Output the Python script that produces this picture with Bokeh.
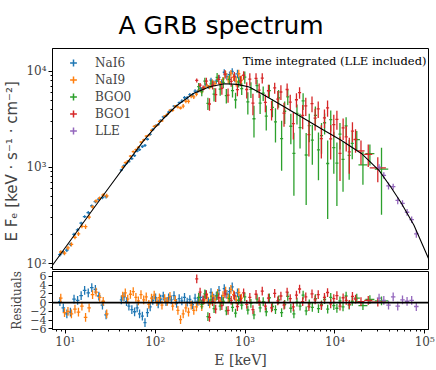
import numpy as np
from bokeh.plotting import figure
from bokeh.models import (Range1d, ColumnDataSource, Legend, LegendItem, Label, Span,
                          CustomJSTickFormatter, SingleIntervalTicker, LogTicker)
from bokeh.layouts import column
from bokeh.embed import file_html
from bokeh.resources import INLINE

# ---------------- data ----------------
# best-fit model curve, E [keV] and E F_E
model_E = [7.2, 9.0, 13.4, 20.6, 31.8, 47.8, 73.4, 95, 122, 170, 262, 403, 591, 823, 1114,
           1552, 2580, 7130, 11860, 19700, 31100, 42200, 54500, 75800, 110000]
model_F = [96, 128, 214, 374, 649, 1090, 1870, 2483, 3200, 4345, 5848, 6950, 7447, 7345, 6902,
           5821, 4426, 2518, 1910, 1400, 929, 619, 430, 250, 113]

# NaI6
n6_E = [8.7, 9.5, 10.4, 11.4, 12.5, 13.7, 15.0, 16.4, 18.0, 19.7, 21.6, 23.6, 25.9, 28.4,
        42, 45, 48, 51, 55, 59, 63, 67, 72, 77, 82, 88, 94, 101, 108, 115, 123, 132, 141, 151,
        162, 173, 185, 198, 212, 227, 243, 260, 278, 298, 319, 341, 365, 391, 418, 448, 479,
        513, 549, 587, 628, 672, 720, 770, 824, 880]
n6_F = [123.5, 130, 138, 158, 201, 224, 263, 308, 339, 398, 441, 469, 486, 497,
        942, 1048, 1103, 1155, 1238, 1332, 1486, 1537, 1654, 1696, 1969, 2212, 2487, 2724, 2800,
        3092, 3373, 3467, 3777, 3969, 4359, 4373, 4730, 4918, 5331, 5321, 5734, 5690, 6253, 6235,
        6666, 6647, 7224, 6933, 8125, 7575, 7923, 8684, 7756, 9816, 8842, 9261, 10046, 8707,
        9446, 8092]
n6_err = [4.9, 5.5, 6.2, 6.9, 7.8, 8.8, 9.9, 11, 12.5, 14, 15.8, 17.7, 20, 22.4,
          28, 30, 33, 35, 39, 43, 46, 50, 55, 59, 63, 68, 74, 79, 85, 91, 97, 103, 110, 117,
          125, 132, 138, 217, 228, 238, 250, 262, 269, 277, 285, 293, 301, 309, 490, 496, 502,
          508, 514, 744, 743, 741, 739, 958, 955, 942]
n6_R = [0.2, -1.2, -2.6, -2.2, 0.8, 0.5, 1.6, 2.8, 2.2, 3.4, 3.0, 1.5, -0.6, -2.8,
        0.6, 1.3, 0.2, -0.8, -1.6, -2.1, -1.2, -2.6, -3.1, -4.6, -2.3, -1.0, 0.5, 1.1, -0.3,
        0.8, 1.5, 0.2, 1.1, 0.6, 1.6, -0.2, 0.9, 0.4, 1.2, 0.1, 0.7, -0.5, 1.0, 0.3, 1.2, 0.5,
        1.8, 0.2, 2.3, 1.0, 1.5, 2.8, 0.8, 3.2, 1.9, 2.5, 3.6, 1.4, 2.2, 0.9]

# NaI9
n9_E = [8.9, 9.8, 10.7, 11.7, 12.8, 14.0, 15.3, 16.8, 18.4, 20.1, 22.0, 24.1, 26.4, 28.9,
        43.5, 46.5, 49.5, 53, 57, 61, 65, 69.5, 74.5, 79.5, 85, 91, 97.5, 104.5, 111.5, 119,
        127.5, 136.5, 146, 156.5, 167.5, 179, 191.5, 205, 219.5, 235, 251.5, 269, 288, 308,
        330, 353, 378, 404, 433, 463, 496, 531, 568, 608, 650, 696, 745, 797, 852, 912]
n9_F = [131.7, 128.2, 145.6, 158.1, 187.4, 203.6, 243.9, 242.2, 303.7, 389.2, 447.6, 478.5,
        516.9, 506,
        1011, 1123, 1166, 1312, 1462, 1534, 1623, 1839, 1934, 2121, 2170, 2437, 2678, 2751,
        3017, 3065, 3424, 3583, 3939, 3933, 4355, 4262, 4167, 4366, 4901, 4892, 5535, 5431,
        5801, 6353, 6156, 6770, 7142, 6856, 7781, 7476, 8277, 7457, 8222, 9369, 8232, 9615,
        8703, 7929, 9471, 8126]
n9_err = [5.7, 6.4, 7.2, 8.1, 9.0, 10.2, 11.4, 12.9, 14.4, 16.2, 18.2, 20.4, 23, 25.8,
          29, 32, 34, 37, 41, 44, 48, 52, 57, 61, 66, 71, 76, 82, 88, 94, 100, 107, 113, 121,
          129, 135, 142, 223, 233, 244, 256, 266, 273, 281, 289, 297, 305, 313, 493, 499, 505,
          511, 518, 744, 742, 740, 738, 956, 948, 935]
n9_R = [1.0, -2.3, -2.0, -2.6, -1.5, -2.2, -0.8, -3.4, -1.2, 1.8, 2.4, 1.2, 0.3, -2.6,
        1.5, 2.2, 0.8, 1.9, 2.5, 1.2, 0.4, 1.8, 0.6, 1.3, -0.4, 1.0, 1.7, 0.2, 1.1, -0.6, 0.9,
        0.3, 1.4, -0.8, 0.5, -1.8, -3.9, -2.6, -1.2, -2.2, -0.6, -1.8, -1.0, 0.4, -0.9, 0.6,
        1.2, -0.3, 1.5, 0.7, 2.1, 0.3, 1.6, 2.6, 1.1, 3.0, 1.8, 0.6, 2.3, 1.0]

# BGO0
b0_E = [305, 330, 357, 386, 418, 452, 489, 529, 572, 619, 670, 725, 784, 848, 918, 993, 1074,
        1162, 1257, 1360, 1471, 1592, 1722, 1863, 2016, 2181, 2359, 2552, 2761, 2987, 3232,
        3496, 3782, 4092, 4427, 4789, 5181, 5605, 6064, 6560, 7097, 7678, 8306, 8986, 9721,
        10520, 11380, 12310, 13320, 14410, 15590, 17500, 20500, 24500, 33000]
b0_F = [6964, 6159, 7946, 4646, 7418, 5805, 8694, 6540, 7692, 5597, 8275, 6328, 5064, 7773,
        6620, 8718, 4823, 6512, 3219, 7128, 4691, 5949, 3425, 6323, 4238, 2986, 5317, 1996,
        3855, 5452, 2688, 1406, 3666, 2605, 4953, 1350, 2735, 1928, 3498, 1529, 2145, 2926,
        1101, 3152, 1607, 1111, 2226, 1213, 2711, 1338, 1785, 1955, 1066, 1393, 962]
b0_err = [622, 642, 662, 683, 700, 922, 936, 949, 962, 966, 963, 960, 957, 949, 933, 1272,
          1251, 1216, 1168, 1122, 1077, 1034, 991, 950, 910, 1164, 1116, 1069, 1023, 979, 938,
          898, 859, 1028, 984, 942, 902, 863, 826, 791, 757, 725, 811, 777, 745, 713, 684, 653,
          622, 593, 565, 451, 405, 345, 640]
b0_R = [1.2, -0.4, 2.0, -3.2, 0.6, -1.4, 1.6, -0.8, 0.3, -1.9, 0.9, -1.1, -2.4, 0.5, -0.6,
        1.3, -1.7, -0.2, -2.8, 0.8, -1.2, 0.2, -2.1, 1.1, -0.9, -1.6, 0.6, -2.3, -0.4, 1.4,
        -1.3, -2.6, 0.1, -0.8, 1.7, -1.9, -0.3, -1.1, 0.9, -1.4, -0.5, 0.7, -1.5, 1.2, -0.7,
        -1.3, 0.4, -1.0, 1.5, -0.6, 0.3, 1.0, -0.7, 0.7, 0.4]

# BGO1
b1_E = [290, 316, 342, 371, 402, 435, 471, 510, 552, 598, 647, 701, 759, 822, 890, 964, 1044,
        1130, 1224, 1325, 1435, 1554, 1683, 1822, 1973, 2137, 2314, 2506, 2714, 2939, 3183,
        3447, 3733, 4043, 4378, 4741, 5134, 5560, 6021, 6521, 7062, 7648, 8282, 8970, 9714,
        10520, 11390, 12340, 13360, 14470, 15670, 16970, 19500, 23500, 30000]
b1_F = [8064, 7213, 6742, 7934, 4584, 7188, 5754, 8290, 6688, 9379, 5684, 7877, 8904, 6486,
        7980, 9142, 6490, 8333, 4683, 8473, 6388, 8545, 4771, 6302, 4012, 6754, 5146, 6119,
        3685, 6493, 4791, 2865, 5077, 6017, 3498, 4388, 2205, 4622, 3262, 4073, 1999, 3295,
        4189, 1989, 2798, 3179, 1405, 2582, 2086, 1453, 2397, 1961, 1491, 1373, 989]
b1_err = [365, 378, 390, 672, 695, 705, 929, 943, 956, 968, 965, 961, 958, 955, 940, 924, 1259,
          1234, 1184, 1137, 1091, 1048, 1003, 961, 921, 882, 1127, 1080, 1033, 989, 946, 905,
          865, 828, 990, 947, 906, 867, 829, 794, 759, 727, 812, 778, 745, 713, 683, 652, 621,
          592, 563, 536, 422, 358, 288]
b1_R = [5.4, 2.4, 0.6, 1.8, -3.4, 0.2, -1.5, 1.1, -0.7, 2.0, -1.8, 0.5, 1.6, -0.9, 0.8, 2.2,
        -0.4, 1.2, -1.6, 1.9, 0.3, 2.6, -0.8, 1.0, -1.2, 2.1, 0.4, 1.5, -0.6, 2.4, 0.9, -1.0,
        1.7, 3.1, 0.2, 1.3, -0.9, 2.0, 0.6, 1.8, -0.7, 1.2, 2.3, -0.3, 0.9, 1.6, -0.8, 1.1,
        0.5, -0.4, 1.4, 0.8, 0.2, 0.5, 0.1]

# LLE
lle_E = [31000, 35000, 39500, 44500, 50000, 56500, 63500, 71500, 80500]
lle_F = [1007, 826, 644, 633, 454, 423, 342, 286, 204]
lle_err = [75, 64, 54, 46, 39, 32, 27, 22, 18]
lle_R = [1.0, 0.5, -0.6, 1.3, -0.8, 0.6, 0.3, 0.5, -0.9]

# half bin widths (decades)
n6_hw = [0.02] * 14 + [0.017] * 46
n9_hw = [0.02] * 14 + [0.017] * 46
b0_hw = [0.017] * 51 + [0.035, 0.05, 0.05, 0.075]
b1_hw = [0.017] * 51 + [0.02, 0.04, 0.045, 0.09]
lle_hw = [0.025] * 9

series = [
    ("NaI6", "#1f77b4", n6_E, n6_F, n6_err, n6_R, n6_hw),
    ("NaI9", "#ff7f0e", n9_E, n9_F, n9_err, n9_R, n9_hw),
    ("BGO0", "#2ca02c", b0_E, b0_F, b0_err, b0_R, b0_hw),
    ("BGO1", "#d62728", b1_E, b1_F, b1_err, b1_R, b1_hw),
    ("LLE", "#9467bd", lle_E, lle_F, lle_err, lle_R, lle_hw),
]

x_lo, x_hi = 7.2, 1.1e5
yf_lo, yf_hi = 86.6, 17360
yr_lo, yr_hi = -6.15, 7.1

SERIF = "DejaVu Serif"


def err_source(E, Y, dY, hw, log):
    E = np.asarray(E, float)
    Y = np.asarray(Y, float)
    dY = np.asarray(dY, float)
    hw = np.asarray(hw, float)
    lo = Y - dY
    if log:
        lo = np.maximum(lo, 1.0)
    return ColumnDataSource(dict(x=E, y=Y, xl=E * 10 ** (-hw), xh=E * 10 ** hw, yl=lo, yh=Y + dY))


log_fmt = CustomJSTickFormatter(code="""
const sup = {"0":"\u2070","1":"\u00b9","2":"\u00b2","3":"\u00b3","4":"\u2074","5":"\u2075",
             "6":"\u2076","7":"\u2077","8":"\u2078","9":"\u2079","-":"\u207b"};
const e = Math.round(Math.log10(tick));
return "10" + String(e).split("").map(c => sup[c]).join("");
""")
lin_fmt = CustomJSTickFormatter(code="""
return tick < 0 ? "\u2212" + Math.abs(tick) : String(tick);
""")

xr = Range1d(x_lo, x_hi)

# ---------------- top panel ----------------
p1 = figure(width=436, height=270, x_axis_type="log", y_axis_type="log",
            x_range=xr, y_range=Range1d(yf_lo, yf_hi),
            output_backend="svg", toolbar_location=None,
            min_border_left=49, min_border_right=8, min_border_top=48, min_border_bottom=1)
p1.title.text = "A GRB spectrum"
p1.title.align = "left"
p1.title.offset = 66
p1.title.standoff = 17
p1.title.text_font = "DejaVu Sans"
p1.title.text_font_size = "25px"
p1.title.text_font_style = "normal"
p1.title.text_color = "black"

legend_items = []
for name, col, E, F, dF, R, hw in series:
    src = err_source(E, F, dF, hw, True)
    p1.segment(x0="xl", y0="y", x1="xh", y1="y", source=src, line_color=col, line_width=1.3)
    p1.segment(x0="x", y0="yl", x1="x", y1="yh", source=src, line_color=col, line_width=1.3)
    # legend key: a single cross kept outside the visible ranges
    key = p1.scatter(x=[x_lo / 100], y=[yf_lo / 100], marker="cross", size=15,
                     line_color=col, line_width=1.5)
    legend_items.append(LegendItem(label=name, renderers=[key]))

p1.line(model_E, model_F, line_color="black", line_width=1.1)

legend = Legend(items=legend_items, location="top_left", margin=0, padding=6,
                spacing=0, glyph_width=30, glyph_height=17, label_height=17,
                label_standoff=7, label_text_font=SERIF, label_text_font_size="12px",
                border_line_alpha=0, background_fill_alpha=0)
p1.add_layout(legend)

p1.add_layout(Label(x=x_hi, y=yf_hi, x_offset=-2, y_offset=-5, text="Time integrated (LLE included)",
                    text_align="right", text_baseline="top", text_font=SERIF,
                    text_font_size="11.5px", text_color="black"))

p1.xaxis.visible = False
p1.yaxis.ticker = LogTicker(num_minor_ticks=10)
p1.yaxis.formatter = log_fmt
p1.yaxis.axis_label = "E F\u2091  [keV \u00b7 s\u207b\u00b9 \u00b7 cm\u207b\u00b2]"
p1.yaxis.axis_label_text_font = "DejaVu Sans"
p1.yaxis.axis_label_text_font_size = "15px"
p1.yaxis.axis_label_text_font_style = "normal"
p1.yaxis.axis_label_standoff = 2
p1.yaxis.major_label_text_font = SERIF
p1.yaxis.major_label_text_font_size = "12px"
p1.yaxis.major_label_standoff = 2
p1.yaxis.major_tick_out = 4
p1.yaxis.major_tick_in = 0
p1.yaxis.minor_tick_out = 2
p1.yaxis.minor_tick_in = 0
p1.grid.visible = False
p1.outline_line_color = "black"
p1.outline_line_width = 1

# ---------------- residual panel ----------------
p2 = figure(width=436, height=100, x_axis_type="log", x_range=xr, y_range=Range1d(yr_lo, yr_hi),
            output_backend="svg", toolbar_location=None,
            min_border_left=49, min_border_right=8, min_border_top=1, min_border_bottom=30)
for name, col, E, F, dF, R, hw in series:
    src = err_source(E, R, np.ones(len(R)), hw, False)
    p2.segment(x0="xl", y0="y", x1="xh", y1="y", source=src, line_color=col, line_width=1.3)
    p2.segment(x0="x", y0="yl", x1="x", y1="yh", source=src, line_color=col, line_width=1.3)
p2.add_layout(Span(location=0, dimension="width", line_color="black", line_width=1.6))

p2.xaxis.ticker = LogTicker(num_minor_ticks=10)
p2.xaxis.formatter = log_fmt
p2.xaxis.axis_label = "E [keV]"
p2.xaxis.axis_label_text_font = SERIF
p2.xaxis.axis_label_text_font_size = "14px"
p2.xaxis.axis_label_text_font_style = "normal"
p2.xaxis.axis_label_standoff = 0
p2.xaxis.major_label_text_font = SERIF
p2.xaxis.major_label_text_font_size = "12px"
p2.xaxis.major_label_standoff = 1
p2.xaxis.major_tick_out = 4
p2.xaxis.major_tick_in = 0
p2.xaxis.minor_tick_out = 2
p2.xaxis.minor_tick_in = 0

p2.yaxis.ticker = SingleIntervalTicker(interval=2, num_minor_ticks=0)
p2.yaxis.formatter = lin_fmt
p2.yaxis.axis_label = "Residuals"
p2.yaxis.axis_label_text_font = SERIF
p2.yaxis.axis_label_text_font_size = "12px"
p2.yaxis.axis_label_text_font_style = "normal"
p2.yaxis.axis_label_standoff = 3
p2.yaxis.major_label_text_font = SERIF
p2.yaxis.major_label_text_font_size = "11px"
p2.yaxis.major_label_standoff = 2
p2.yaxis.major_tick_out = 4
p2.yaxis.major_tick_in = 0
p2.yaxis.minor_tick_out = 0
p2.yaxis.minor_tick_in = 0
p2.grid.visible = False
p2.outline_line_color = "black"
p2.outline_line_width = 1

layout = column(p1, p2, spacing=0)
open("out.html", "w").write(file_html(layout, INLINE))
